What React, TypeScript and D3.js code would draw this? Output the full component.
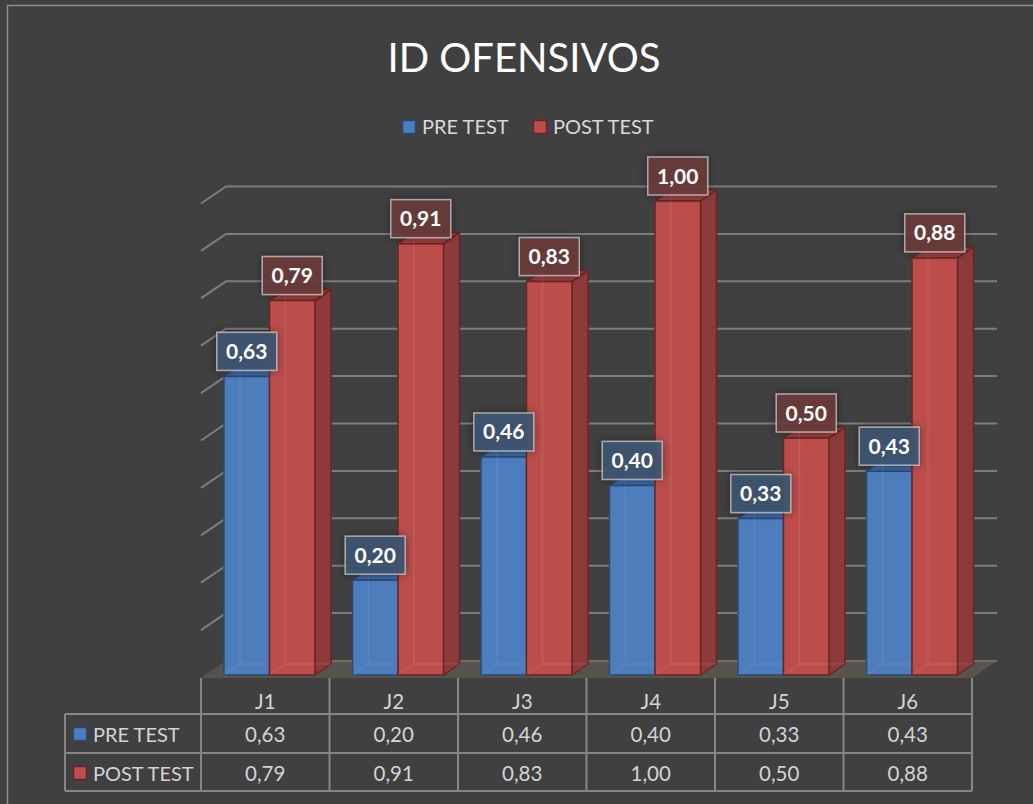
import React from "react";
import * as d3 from "d3";

const categories = ["J1", "J2", "J3", "J4", "J5", "J6"];
const seriesNames = ["PRE TEST", "POST TEST"];
const preTest = [0.63, 0.2, 0.46, 0.4, 0.33, 0.43];
const postTest = [0.79, 0.91, 0.83, 1.0, 0.5, 0.88];

const width = 1033;
const height = 804;
const plot = { left: 201, right: 972, base: 675, top: 201 };
const floor = { front: 678, back: 661, dx: 25 };
const barDepth = { dx: 16, dy: 11 };

const colors = {
  pre: { front: "#4d7dbc", side: "#3b6297", top: "#3e67a0", edge: "#2a4a76", label: "#3f5571" },
  post: { front: "#bb4e4b", side: "#8d3b3a", top: "#9a403e", edge: "#6b2424", label: "#6c3c3c" },
};

const locale = d3.formatLocale({ decimal: ",", thousands: ".", grouping: [3], currency: ["", ""] });
const fmt = locale.format(".2f");

const font = "Lato, 'Open Sans', sans-serif";

export default function App() {
  const x = d3.scaleBand<string>().domain(categories).range([plot.left, plot.right]);
  const inner = d3.scaleBand<string>().domain(seriesNames).range([23, 114]);
  const y = d3.scaleLinear().domain([0, 1]).range([plot.base, plot.top]);
  const yBack = (v: number) => y(v) - 14.5;

  const series = [
    { name: seriesNames[0], values: preTest, c: colors.pre },
    { name: seriesNames[1], values: postTest, c: colors.post },
  ];

  const ticks = y.ticks(10).filter(t => t > 0);
  const rowLines = [714, 753, 791];

  return (
    <svg
      width={width}
      height={height}
      style={{ position: "absolute", left: 0, top: 0 }}
      fontFamily={font}
    >
      <defs>
        <filter id="sh" x="-30%" y="-30%" width="160%" height="160%">
          <feDropShadow dx="0" dy="0" stdDeviation="4" floodColor="#000" floodOpacity="0.45" />
        </filter>
      </defs>
      <rect width={width} height={height} fill="#404040" />
      <path d={`M7.5,${height} V5.5 H${width}`} fill="none" stroke="#8f8f8f" strokeWidth={1.5} />

      {/* title */}
      <text x={524} y={72} textAnchor="middle" fill="#ffffff" fontSize={40}>
        ID OFENSIVOS
      </text>

      {/* legend */}
      {series.map((s, i) => {
        const lx = [402, 533][i];
        return (
          <g key={s.name}>
            <rect x={lx + 0.5} y={120.5} width={13} height={13} fill={s.c.front} stroke={s.c.edge} strokeWidth={1.5} />
            <text x={lx + 20} y={134} fill="#d9d9d9" fontSize={20}>
              {s.name}
            </text>
          </g>
        );
      })}

      {/* gridlines */}
      {ticks.map(t => {
        const yb = yBack(t);
        return (
          <path
            key={t}
            d={`M${plot.left},${yb + 17} L${plot.left + floor.dx},${yb} H997`}
            fill="none"
            stroke="#7d7d7d"
            strokeWidth={2}
          />
        );
      })}

      {/* floor */}
      <polygon
        points={`${plot.left},${floor.front} ${plot.right},${floor.front} ${plot.right + floor.dx},${floor.back} ${plot.left + floor.dx},${floor.back}`}
        fill="#57544d"
      />
      <line x1={plot.left + floor.dx} x2={997} y1={floor.back} y2={floor.back} stroke="#7d7b74" strokeWidth={1.5} />

      {/* bars */}
      {categories.map((cat, ci) =>
        series.map(s => {
          const x0 = (x(cat) as number) + (inner(s.name) as number);
          const w = inner.bandwidth();
          const yt = y(s.values[ci]);
          const yb = plot.base;
          const { dx, dy } = barDepth;
          return (
            <g key={cat + s.name} strokeLinejoin="round">
              <polygon
                points={`${x0},${yt} ${x0 + dx},${yt - dy} ${x0 + w + dx},${yt - dy} ${x0 + w},${yt}`}
                fill={s.c.top}
                stroke={s.c.edge}
                strokeWidth={1.5}
              />
              <polygon
                points={`${x0 + w},${yt} ${x0 + w + dx},${yt - dy} ${x0 + w + dx},${yb - dy} ${x0 + w},${yb}`}
                fill={s.c.side}
                stroke={s.c.edge}
                strokeWidth={1.5}
              />
              <rect x={x0} y={yt} width={w} height={yb - yt} fill={s.c.front} stroke={s.c.edge} strokeWidth={1.5} />
              <path
                d={`M${x0 + dx},${yt - dy} V${yb - dy} H${x0 + w + dx} M${x0},${yb} L${x0 + dx},${yb - dy}`}
                fill="none"
                stroke="#ffffff"
                strokeOpacity={0.08}
                strokeWidth={1.5}
              />
            </g>
          );
        })
      )}

      {/* data labels */}
      {categories.map((cat, ci) =>
        series.map(s => {
          const cx = (x(cat) as number) + (inner(s.name) as number) + inner.bandwidth() / 2;
          const cy = y(s.values[ci]) - 25;
          return (
            <g key={"l" + cat + s.name}>
              <rect
                x={cx - 30}
                y={cy - 19}
                width={60}
                height={38}
                fill={s.c.label}
                fillOpacity={0.9}
                stroke="#c8c8c8"
                strokeOpacity={0.75}
                strokeWidth={1.5}
                filter="url(#sh)"
              />
              <text x={cx} y={cy + 7.5} textAnchor="middle" fill="#ffffff" fontWeight="bold" fontSize={21}>
                {fmt(s.values[ci])}
              </text>
            </g>
          );
        })
      )}

      {/* data table */}
      <g stroke="#878787" strokeWidth={2} fill="none">
        {[...categories.map(c => x(c) as number), plot.right].map(vx => (
          <line key={vx} x1={vx} x2={vx} y1={floor.front} y2={791} />
        ))}
        <line x1={65} x2={65} y1={714} y2={791} />
        {rowLines.map(ry => (
          <line key={ry} x1={65} x2={plot.right} y1={ry} y2={ry} />
        ))}
      </g>
      {categories.map((cat, ci) => {
        const cx = (x(cat) as number) + x.bandwidth() / 2;
        return (
          <g key={"t" + cat} fill="#d4d4d4" fontSize={20.5} textAnchor="middle">
            <text x={cx} y={709}>{cat}</text>
            <text x={cx} y={742}>{fmt(preTest[ci])}</text>
            <text x={cx} y={781}>{fmt(postTest[ci])}</text>
          </g>
        );
      })}
      {series.map((s, i) => {
        const ry = [742, 781][i];
        return (
          <g key={"tl" + s.name}>
            <rect x={73.5} y={ry - 14.5} width={13} height={13} fill={s.c.front} stroke={s.c.edge} strokeWidth={1.5} />
            <text x={93} y={ry} fill="#d4d4d4" fontSize={20}>
              {s.name}
            </text>
          </g>
        );
      })}
    </svg>
  );
}
